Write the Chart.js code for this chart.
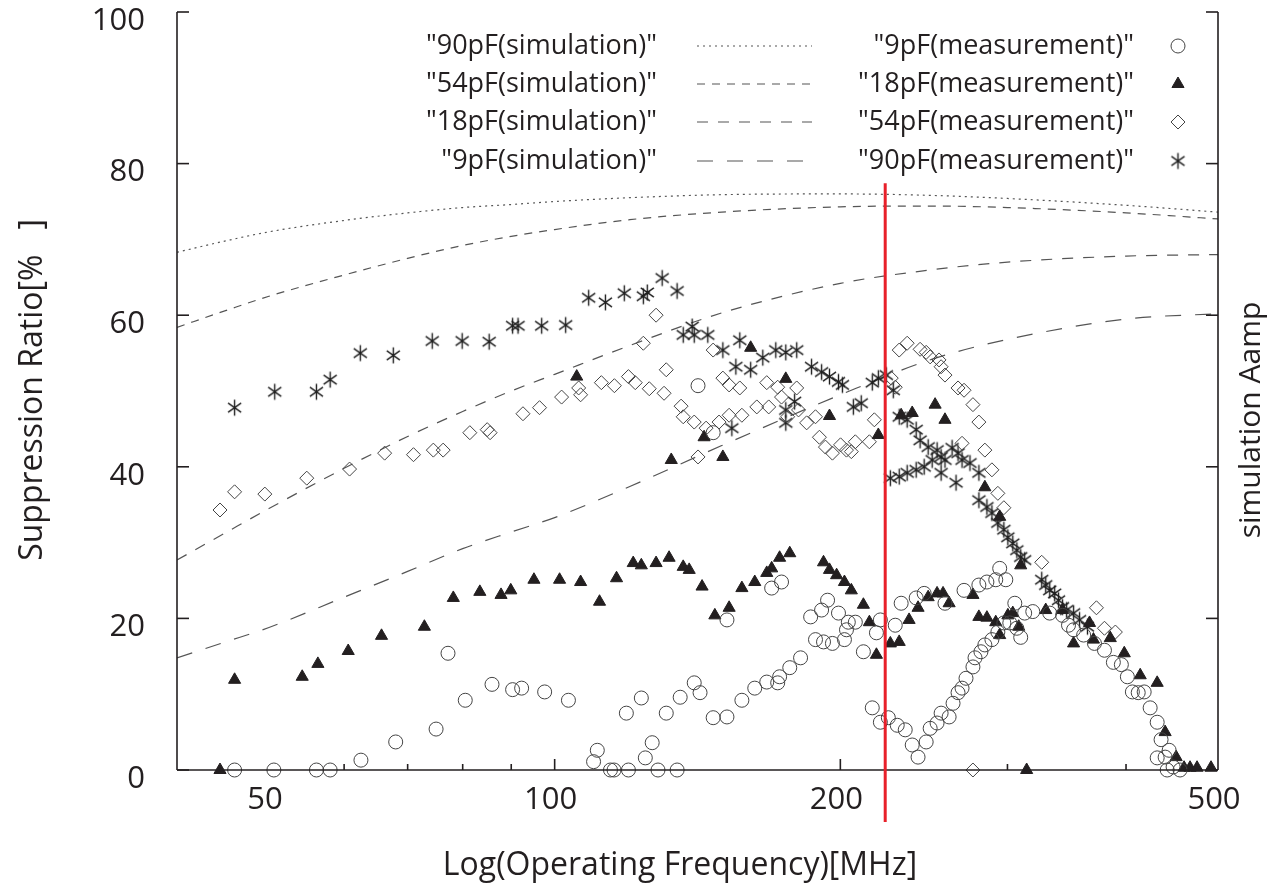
<!DOCTYPE html>
<html>
<head>
<meta charset="utf-8">
<script src="https://cdn.jsdelivr.net/npm/chart.js@4.4.1/dist/chart.umd.min.js"></script>
<style>
  html, body { margin: 0; padding: 0; background: #ffffff; }
  #chartContainer { width: 1272px; height: 889px; position: relative; }
</style>
</head>
<body>
<div id="chartContainer"><canvas id="grafico"></canvas></div>
<script>
// Frequencies [MHz] and suppression ratio [%]
const xTickLabels = [50, 100, 200, 500];
const xTickMarks = [60, 70, 80, 90, 100, 200, 300, 400];
const yTickValues = [0, 20, 40, 60, 80, 100];

// simulation curves (same frequency grid)
const simFreq = [40, 45, 50, 60, 70, 80, 90, 100, 120, 150, 200, 250, 300, 400, 500];
const sim90pF = [68.3, 69.8, 71.0, 72.5, 73.5, 74.2, 74.6, 75.0, 75.5, 75.9, 76.0, 75.8, 75.4, 74.5, 73.6];
const sim54pF = [58.4, 60.6, 62.5, 65.3, 67.5, 69.2, 70.4, 71.3, 72.6, 73.6, 74.3, 74.4, 74.2, 73.5, 72.7];
const sim18pF = [27.7, 31.3, 34.5, 39.8, 44.0, 47.3, 50.0, 52.2, 56.0, 60.3, 64.2, 66.0, 67.0, 67.8, 68.0];
const sim9pF  = [14.8, 16.9, 18.8, 22.8, 26.2, 29.2, 31.4, 33.3, 37.4, 42.8, 49.5, 54.2, 56.8, 59.5, 60.2];

// measurements: [frequency, ratio]
const meas9pF = [
  [46.0,0],[50.6,0],[56.1,0],[58.0,0],[62.5,1.3],[68.0,3.7],[75.0,5.4],[77.2,15.4],[80.5,9.2],[85.9,11.3],
  [90.3,10.6],[92.3,10.8],[97.6,10.3],[103.4,9.2],[110.9,2.6],[109.9,1.1],[114.5,0],[115.5,0],[119.6,0],[119.0,7.5],
  [123.4,9.5],[124.6,1.6],[126.7,3.6],[128.5,0],[131.1,7.5],[134.6,0],[135.6,9.6],[140.3,11.5],[142.3,10.2],[141.6,50.7],
  [146.9,6.9],[151.9,7.0],[151.9,19.8],[146.9,44.5],[157.5,9.2],[162.5,10.8],[167.3,11.6],[171.8,11.5],[172.6,12.3],[169.3,24.0],
  [173.4,24.8],[176.9,13.5],[181.6,14.8],[186.1,20.2],[188.3,17.2],[191.1,21.1],[192.0,16.9],[193.9,22.4],[196.2,16.7],[199.1,20.7],
  [202.0,17.2],[203.0,18.5],[203.9,19.5],[207.4,19.5],[211.5,15.6],[216.1,8.2],[218.3,18.1],[220.4,19.8],[220.4,6.3],[224.7,6.9],
  [228.5,19.1],[229.6,5.9],[234.1,5.3],[231.8,22.0],[238.1,3.3],[241.5,1.7],[246.3,3.7],[240.4,22.7],[245.1,23.3],[248.7,5.5],
  [252.9,6.2],[255.4,7.5],[257.8,22.0],[260.4,7.0],[262.9,8.8],[266.1,10.2],[268.7,10.8],[270.0,23.7],[271.3,12.1],[275.9,13.6],
  [277.3,14.8],[279.9,24.4],[281.3,15.6],[284.0,16.5],[285.4,24.8],[288.9,17.2],[291.6,25.1],[293.1,18.2],[294.4,26.6],[297.4,19.4],
  [298.8,25.1],[301.7,19.4],[305.4,22.0],[306.9,18.7],[309.8,17.5],[312.8,20.7],[319.0,20.9],[332.4,20.7],[342.9,20.4],[347.9,19.1],
  [352.2,18.5],[360.9,17.8],[370.5,16.7],[379.6,15.8],[387.9,14.2],[395.5,13.9],[401.3,12.3],[406.2,10.3],[412.0,10.2],[418.0,10.3],
  [424.1,8.2],[431.4,6.3],[435.5,4.0],[431.4,1.6],[439.8,1.7],[444.1,2.6],[442.0,0],[448.4,0.4],[456.0,0]
];
const meas18pF = [
  [44.4,0],[46.0,11.9],[54.2,12.3],[56.3,14.0],[60.6,15.7],[65.7,17.7],[72.9,18.9],[78.2,22.7],[83.4,23.5],[87.8,23.1],
  [89.9,23.7],[95.1,25.1],[101.2,25.1],[105.5,51.9],[106.5,24.8],[111.5,22.2],[116.2,25.3],[121.0,27.3],[123.4,27.0],[127.9,27.3],
  [132.0,28.0],[136.6,26.8],[138.6,26.4],[143.0,24.2],[132.7,40.9],[143.7,43.9],[150.4,41.3],[147.5,20.4],[152.7,21.4],[157.5,24.0],
  [162.5,24.8],[160.9,55.7],[167.3,26.0],[169.3,26.6],[172.6,28.0],[176.9,28.6],[175.2,51.6],[192.0,27.4],[194.8,26.4],[198.2,25.7],
  [202.0,24.8],[205.4,23.7],[194.8,46.7],[211.5,21.8],[214.6,19.5],[218.3,15.2],[219.3,44.2],[225.8,16.7],[230.7,16.9],[231.8,46.8],
  [238.1,47.1],[236.3,19.8],[241.5,21.4],[247.5,22.8],[251.7,48.2],[252.9,23.3],[257.8,46.2],[256.6,23.3],[260.4,22.0],[275.9,23.1],
  [284.0,37.3],[279.9,20.2],[285.4,20.1],[291.6,19.5],[294.4,33.4],[294.4,17.8],[300.3,20.4],[303.9,20.7],[309.8,27.0],[308.3,18.9],
  [314.3,0],[329.2,21.1],[342.9,21.1],[352.2,16.7],[366.1,19.4],[369.6,17.2],[385.0,17.4],[398.3,15.4],[414.0,12.5],[431.4,11.5],
  [439.8,5.0],[451.7,1.7],[460.5,0.3],[467.2,0.3],[475.2,0.3],[491.6,0.3]
];
const meas54pF = [
  [44.4,34.3],[46.0,36.7],[49.5,36.4],[54.8,38.5],[60.8,39.7],[66.2,41.8],[71.0,41.6],[74.5,42.2],[76.3,42.2],[81.4,44.5],
  [84.9,44.9],[85.5,44.5],[92.6,47.0],[96.4,47.8],[101.7,49.2],[106.0,50.4],[106.5,49.5],[112.0,51.1],[115.6,50.7],[119.6,51.9],
  [121.6,51.1],[125.8,50.3],[127.9,60.0],[124.0,56.3],[130.4,49.7],[131.1,52.8],[135.9,48.0],[136.6,46.6],[140.3,45.9],[141.6,41.3],
  [144.4,45.1],[146.9,55.4],[149.0,45.9],[150.4,51.7],[152.7,46.8],[152.7,50.8],[156.7,50.4],[157.5,46.8],[163.3,47.9],[167.3,51.1],
  [168.1,47.9],[171.8,50.5],[173.4,49.2],[176.0,46.6],[179.9,50.4],[180.7,47.5],[184.3,45.8],[188.3,46.6],[190.1,43.9],[192.9,42.6],
  [196.2,41.8],[200.1,42.9],[203.0,42.2],[205.4,42.0],[207.4,43.3],[214.6,43.3],[217.2,46.2],[226.3,51.7],[228.5,50.5],[230.7,55.4],
  [235.2,56.3],[242.7,55.5],[246.3,55.1],[248.7,54.5],[254.1,54.1],[255.4,53.2],[257.8,52.1],[266.1,50.4],[270.0,50.1],[275.9,48.2],
  [279.9,45.9],[268.7,43.1],[284.0,42.2],[288.9,39.6],[293.1,36.5],[297.4,34.6],[326.0,27.4],[372.3,21.4],[379.6,18.7],[389.8,18.2],
  [275.9,0]
];
const meas90pF = [
  [46.0,47.8],[50.7,49.9],[56.1,49.9],[58.0,51.5],[62.4,55.0],[67.6,54.7],[74.3,56.6],[79.9,56.6],[85.3,56.5],[90.3,58.6],
  [91.5,58.6],[96.9,58.6],[102.7,58.7],[108.6,62.3],[113.1,61.7],[118.4,62.9],[124.0,62.5],[125.2,63.0],[129.8,64.9],[134.6,63.2],
  [136.6,57.4],[139.6,58.5],[140.3,57.4],[145.0,57.4],[150.4,55.4],[156.7,56.7],[155.2,53.2],[160.9,52.8],[165.7,54.4],[171.0,55.4],
  [175.2,55.1],[179.9,55.4],[186.5,53.2],[191.1,52.5],[194.8,51.9],[199.1,51.2],[201.0,50.8],[179.0,48.6],[175.2,47.5],[175.2,45.8],
  [153.7,45.1],[206.4,47.9],[210.4,48.4],[216.1,51.1],[219.3,51.7],[223.6,52.1],[227.4,50.1],[230.7,46.6],[235.2,46.2],[240.4,44.9],
  [242.7,43.5],[247.5,42.6],[252.9,42.2],[255.4,41.3],[257.8,40.9],[262.3,42.5],[266.1,41.8],[268.7,40.9],[273.9,40.5],[255.4,39.2],
  [264.8,37.9],[279.9,39.2],[279.9,35.6],[285.4,34.7],[288.9,33.9],[293.1,32.6],[297.4,31.7],[300.3,30.7],[303.9,29.9],[306.9,29.0],
  [309.8,28.1],[312.8,27.7],[225.8,38.5],[230.7,38.7],[235.2,39.2],[240.4,39.6],[245.1,40.0],[249.9,40.9],[326.0,25.1],[329.2,24.4],
  [332.4,23.7],[336.4,23.3],[339.6,22.4],[342.9,21.5],[346.3,21.1],[352.2,20.7],[357.3,19.8],[364.3,18.9]
];

// red marker line
const redLineFreq = 223;
const redLineTop = 77.4;

const ink = '#231f20';
const fontFamily = '"Open Sans", "Noto Sans", sans-serif';

// asterisk marker (6 arms)
function makeAsterisk(r) {
  const c = document.createElement('canvas');
  const s = Math.ceil(r * 2 + 3);
  c.width = s; c.height = s;
  const g = c.getContext('2d');
  g.strokeStyle = '#1e1e1e';
  g.lineWidth = 1.4;
  g.beginPath();
  [90, 35, 145].forEach(function (a) {
    const rad = a * Math.PI / 180;
    g.moveTo(s / 2 - r * Math.cos(rad), s / 2 - r * Math.sin(rad));
    g.lineTo(s / 2 + r * Math.cos(rad), s / 2 + r * Math.sin(rad));
  });
  g.stroke();
  return c;
}
const asteriskImg = makeAsterisk(8);

const toXY = pairs => pairs.map(p => ({ x: p[0], y: p[1] }));
const simXY = vals => simFreq.map((f, i) => ({ x: f, y: vals[i] }));

const simStyle = (label, vals, dash) => ({
  label: label, data: simXY(vals), showLine: true, pointRadius: 0,
  borderColor: '#555', borderWidth: 1.2, borderDash: dash,
  tension: 0.4, cubicInterpolationMode: 'monotone', fill: false
});

const series = {
  sim90: simStyle('"90pF(simulation)"', sim90pF, [2, 4]),
  sim54: simStyle('"54pF(simulation)"', sim54pF, [8, 7]),
  sim18: simStyle('"18pF(simulation)"', sim18pF, [11, 10]),
  sim9:  simStyle('"9pF(simulation)"', sim9pF, [16, 14]),
  m9:  { label: '"9pF(measurement)"', data: toXY(meas9pF), pointStyle: 'circle', pointRadius: 7,
         borderColor: '#444', borderWidth: 1, backgroundColor: 'rgba(0,0,0,0)', clip: false },
  m18: { label: '"18pF(measurement)"', data: toXY(meas18pF), pointStyle: 'triangle', pointRadius: 7,
         borderColor: ink, borderWidth: 1, backgroundColor: ink, clip: false },
  m54: { label: '"54pF(measurement)"', data: toXY(meas54pF), pointStyle: 'rectRot', pointRadius: 7,
         borderColor: '#444', borderWidth: 1, backgroundColor: 'rgba(0,0,0,0)', clip: false },
  m90: { label: '"90pF(measurement)"', data: toXY(meas90pF), pointStyle: asteriskImg, pointRadius: 8,
         borderColor: '#222', backgroundColor: '#222', clip: false }
};

// legend, axes decorations, titles and red line
const frame = {
  id: 'frame',
  afterDraw(chart) {
    const ctx = chart.ctx;
    const a = chart.chartArea;
    const x = chart.scales.x, y = chart.scales.y;
    const seg = (x1, y1, x2, y2) => { ctx.beginPath(); ctx.moveTo(x1, y1); ctx.lineTo(x2, y2); ctx.stroke(); };
    ctx.save();
    ctx.strokeStyle = ink;
    ctx.lineWidth = 1.6;
    seg(a.left, a.top, a.left, a.bottom);
    seg(a.left, a.bottom, a.right, a.bottom);
    seg(a.right, a.top, a.right, a.bottom);
    yTickValues.forEach(v => {
      const py = y.getPixelForValue(v);
      seg(a.left, py, a.left + 12, py);
      seg(a.right, py, a.right - 12, py);
    });
    xTickMarks.forEach(v => {
      const px = x.getPixelForValue(v);
      const len = (v === 100 || v === 200) ? 11 : 6;
      seg(px, a.bottom, px, a.bottom - len);
    });

    // red line
    ctx.strokeStyle = '#e8202a';
    ctx.lineWidth = 3;
    const rx = x.getPixelForValue(redLineFreq);
    seg(rx, y.getPixelForValue(redLineTop), rx, a.bottom + 52);

    // legend
    ctx.fillStyle = ink;
    ctx.font = '27px ' + fontFamily;
    ctx.textAlign = 'right';
    ctx.textBaseline = 'middle';
    const rows = [46, 84, 122, 161];
    [series.sim90, series.sim54, series.sim18, series.sim9].forEach((d, i) => {
      ctx.fillText(d.label, 657, rows[i]);
      ctx.save();
      ctx.strokeStyle = '#555';
      ctx.lineWidth = 1.2;
      ctx.setLineDash(d.borderDash);
      seg(697, rows[i], 812, rows[i]);
      ctx.restore();
    });
    [series.m9, series.m18, series.m54, series.m90].forEach((d, i) => {
      const cy = rows[i], cx = 1178, r = d.pointRadius;
      ctx.fillText(d.label, 1134, cy);
      ctx.save();
      ctx.strokeStyle = d.borderColor;
      ctx.fillStyle = d.backgroundColor;
      ctx.lineWidth = d.borderWidth || 1;
      if (d.pointStyle === asteriskImg) {
        ctx.drawImage(asteriskImg, cx - asteriskImg.width / 2, cy - asteriskImg.height / 2);
      } else {
        ctx.beginPath();
        if (d.pointStyle === 'circle') {
          ctx.arc(cx, cy, r, 0, Math.PI * 2);
        } else if (d.pointStyle === 'triangle') {
          ctx.moveTo(cx, cy - r);
          ctx.lineTo(cx + r * 0.866, cy + r * 0.5);
          ctx.lineTo(cx - r * 0.866, cy + r * 0.5);
          ctx.closePath();
        } else {
          ctx.moveTo(cx, cy - r); ctx.lineTo(cx + r, cy);
          ctx.lineTo(cx, cy + r); ctx.lineTo(cx - r, cy);
          ctx.closePath();
        }
        ctx.fill();
        ctx.stroke();
      }
      ctx.restore();
    });

    // axis titles
    ctx.font = '32px ' + fontFamily;
    ctx.textAlign = 'center';
    ctx.fillText('Log(Operating Frequency)[MHz]', 680, 866);
    ctx.save();
    ctx.translate(33, 390);
    ctx.rotate(-Math.PI / 2);
    ctx.fillText('Suppression Ratio[%   ]', 0, 0);
    ctx.restore();
    ctx.save();
    ctx.font = '30px ' + fontFamily;
    ctx.translate(1251, 420);
    ctx.rotate(-Math.PI / 2);
    ctx.fillText('simulation Aamp', 0, 0);
    ctx.restore();
    ctx.restore();
  }
};

const chart = new Chart(document.getElementById('grafico').getContext('2d'), {
  type: 'scatter',
  data: {
    datasets: [series.m9, series.m18, series.m54, series.m90, series.sim90, series.sim54, series.sim18, series.sim9]
  },
  options: {
    responsive: true,
    maintainAspectRatio: false,
    animation: false,
    layout: { padding: { top: 12, right: 54, left: 0, bottom: 0 } },
    plugins: { legend: { display: false }, tooltip: { enabled: false } },
    scales: {
      x: {
        type: 'logarithmic',
        min: 40,
        max: 500,
        grid: { display: false, drawTicks: false },
        border: { display: false },
        ticks: {
          color: ink,
          font: { size: 31, family: fontFamily },
          padding: 12,
          labelOffset: -4,
          autoSkip: false,
          maxRotation: 0,
          callback: v => String(v)
        },
        afterBuildTicks: s => { s.ticks = xTickLabels.map(v => ({ value: v })); },
        afterFit: s => { s.height = 119; s.paddingLeft = 0; s.paddingRight = 0; }
      },
      y: {
        min: 0,
        max: 100,
        grid: { display: false, drawTicks: false },
        border: { display: false },
        ticks: {
          color: ink,
          stepSize: 20,
          font: { size: 31, family: fontFamily },
          padding: 32,
          labelOffset: 9
        },
        afterFit: s => { s.width = 177; s.paddingTop = 0; s.paddingBottom = 0; }
      }
    }
  },
  plugins: [frame]
});
</script>
</body>
</html>
